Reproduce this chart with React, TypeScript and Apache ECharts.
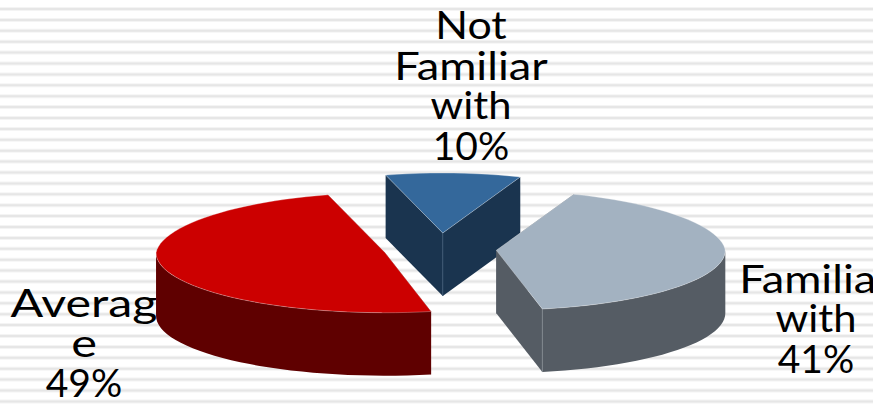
import React, { useEffect, useRef } from "react";
import * as echarts from "echarts";

// Survey answers, in the order they run clockwise round the pie.
const categories = ["Familiar with", "Average", "Not Familiar with"];
const shares = [41, 49, 10];
const labelLines = [["Familiar", "with"], ["Averag", "e"], ["Not", "Familiar", "with"]];

const topColors = ["#A3B2C1", "#CC0000", "#34689B"];
const sideColors = ["#555C64", "#5F0000", "#1A344F"];
const edgeColors = ["#7F868D", "#5F0000", "#3A5570"];
const paintOrder = [1, 2, 0];

const labelX = [816, 84, 471];
const labelTop = [258, 282, 5];
// Horizontal stretch per word, giving the wide geometric look of the lettering.
const lineStretch = [[1.16, 1.07], [1.24, 1.25], [1.1, 1.16, 1.07]];

const WIDTH = 873;
const HEIGHT = 404;
const FONT = "Lato, 'Noto Sans', sans-serif";
const LINE_HEIGHT = 40;

// Tilted-pie projection, in pixels.
const CENTER_X = 440;
const CENTER_Y = 249;
const RADIUS_X = 229;
const RADIUS_Y = 60;
const DEPTH = 63;
const EXPLODE_X = 56.5;
const EXPLODE_Y = 16;
const START_ANGLE = 290.8;
const BACK_NARROWING = 0.05;

const STRIPE_PERIOD = 10.9;
const STRIPE_FIRST = 9;

const rad = (deg: number) => (deg * Math.PI) / 180;

function rimPoint(apex: number[], deg: number, drop = 0) {
  const s = Math.sin(rad(deg));
  const narrowing = s < 0 ? 1 + BACK_NARROWING * s : 1;
  return [
    apex[0] + RADIUS_X * narrowing * Math.cos(rad(deg)),
    apex[1] + RADIUS_Y * s + drop,
  ];
}

function arc(apex: number[], from: number, to: number, drop = 0) {
  const pts: number[][] = [];
  const steps = Math.max(2, Math.ceil((to - from) / 3));
  for (let i = 0; i <= steps; i++) {
    pts.push(rimPoint(apex, from + ((to - from) * i) / steps, drop));
  }
  return pts;
}

function renderSlice(params: any, api: any) {
  const index = params.dataIndex;
  const total = shares.reduce((a, b) => a + b, 0);
  const before = shares.slice(0, index).reduce((a, b) => a + b, 0);
  const from = START_ANGLE + (before / total) * 360;
  const to = from + (api.value(0) / total) * 360;
  const mid = (from + to) / 2;
  const apex = [
    CENTER_X + EXPLODE_X * Math.cos(rad(mid)),
    CENTER_Y + EXPLODE_Y * Math.sin(rad(mid)),
  ];
  const z2 = paintOrder[index];
  const side = sideColors[index];
  const children: any[] = [];

  const face = (deg: number) => {
    const rim = rimPoint(apex, deg);
    children.push({
      type: "polygon",
      z2,
      shape: { points: [apex, rim, [rim[0], rim[1] + DEPTH], [apex[0], apex[1] + DEPTH]] },
      style: { fill: side },
    });
  };
  face(from);
  face(to);

  // Outer wall: only the stretch of rim on the near side of the pie shows.
  for (const turn of [0, 360]) {
    const a = Math.max(from, turn);
    const b = Math.min(to, turn + 180);
    if (b > a) {
      children.push({
        type: "polygon",
        z2,
        shape: { points: [...arc(apex, a, b), ...arc(apex, a, b, DEPTH).reverse()] },
        style: { fill: side },
      });
    }
  }

  // Light seam down the front corner of the wedge.
  const seamAt = index === 1 ? null : index === 0 ? rimPoint(apex, to) : apex;
  if (seamAt) {
    children.push({
      type: "line",
      z2,
      shape: { x1: seamAt[0], y1: seamAt[1], x2: seamAt[0], y2: seamAt[1] + DEPTH },
      style: { stroke: edgeColors[index], lineWidth: 1 },
    });
  }

  children.push({
    type: "polygon",
    z2,
    shape: { points: [apex, ...arc(apex, from, to)] },
    style: { fill: topColors[index], stroke: "rgba(244,244,244,0.6)", lineWidth: 0.5 },
  });

  return { type: "group", children };
}

function stripes() {
  const out: any[] = [];
  for (let y = STRIPE_FIRST; y < HEIGHT; y += STRIPE_PERIOD) {
    out.push({
      type: "rect",
      z: 0,
      shape: { x: 0, y: y - 2, width: WIDTH, height: 4 },
      style: { fill: "#F4F4F4" },
    });
    out.push({
      type: "rect",
      z: 0,
      shape: { x: 0, y: y - 1, width: WIDTH, height: 2 },
      style: { fill: "#E6E6E6" },
    });
  }
  return out;
}

function labels() {
  const out: any[] = [];
  categories.forEach((_, i) => {
    const lines = [...labelLines[i], `${shares[i]}%`];
    lines.forEach((line, n) => {
      out.push({
        type: "text",
        z: 1,
        x: labelX[i],
        y: labelTop[i] + n * LINE_HEIGHT,
        scaleX: lineStretch[i][n] ?? 1,
        style: {
          text: line,
          font: `39px ${FONT}`,
          fill: "#000000",
          textAlign: "center",
          textVerticalAlign: "top",
        },
      });
    });
  });
  return out;
}

export default function App() {
  const ref = useRef<HTMLDivElement>(null);

  useEffect(() => {
    document.body.style.margin = "0";
    const chart = echarts.init(ref.current!, null, { renderer: "svg" });
    chart.setOption({
      animation: false,
      backgroundColor: "#FFFFFF",
      graphic: { elements: [...stripes(), ...labels()] },
      series: [
        {
          type: "custom",
          coordinateSystem: "none",
          z: 2,
          clip: false,
          silent: true,
          data: shares.map((v, i) => ({ name: categories[i], value: [v] })),
          renderItem: renderSlice,
        },
      ],
    });
    return () => chart.dispose();
  }, []);

  return <div ref={ref} style={{ width: WIDTH, height: HEIGHT, overflow: "hidden" }} />;
}
